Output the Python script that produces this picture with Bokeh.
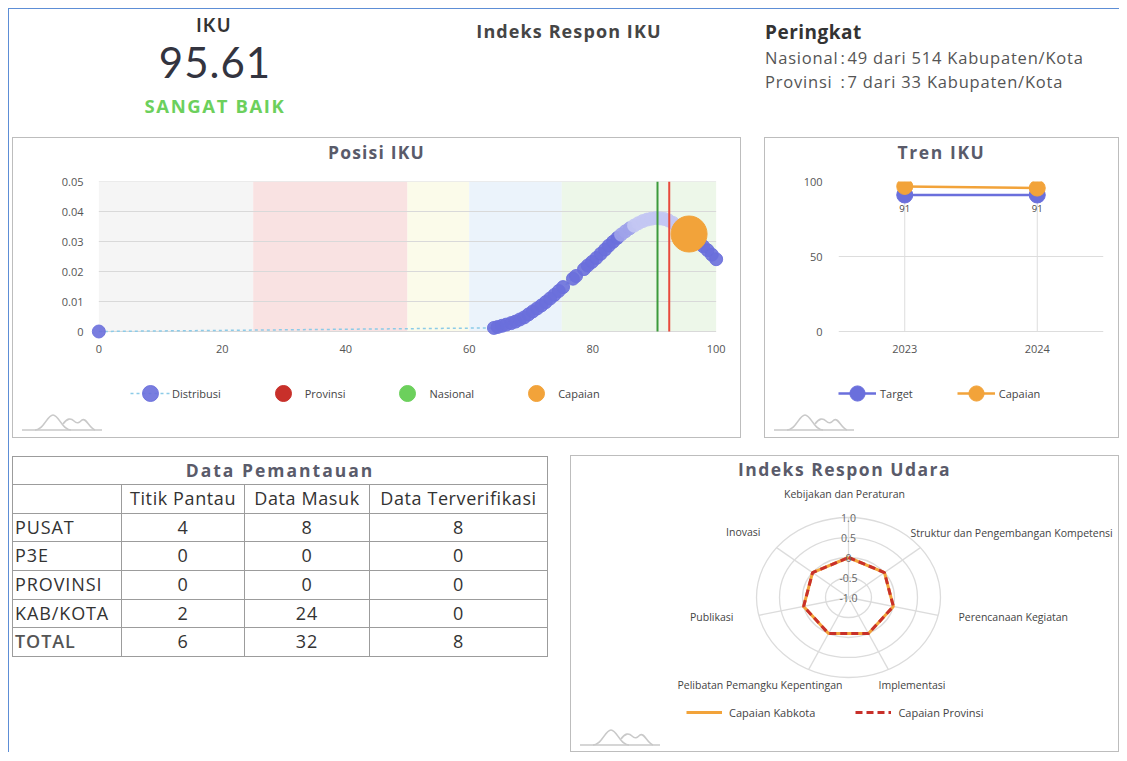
import math
from bokeh.plotting import figure
from bokeh.models import (ColumnDataSource, Div, Legend, LegendItem, Range1d,
                          FactorRange, FixedTicker)
from bokeh.layouts import column, row
from bokeh.embed import file_html
from bokeh.resources import INLINE
from bokeh.core.properties import value

# ---------------- data ----------------
iku_score = "95.61"
iku_category = "SANGAT BAIK"
rank_labels = ["Nasional", "Provinsi"]
rank_values = ["49 dari 514 Kabupaten/Kota", "7 dari 33 Kabupaten/Kota"]

dist_x = [0.0, 64.0, 64.6, 65.3, 66.0, 66.8, 67.5, 68.2, 68.9, 69.6, 70.3, 71.0,
          71.7, 72.4, 73.1, 73.8, 74.5, 75.2, 76.8, 77.3, 78.6, 79.2, 79.9, 80.6,
          81.3, 82.0, 82.6, 83.3, 84.0, 84.6, 85.3, 86.0, 86.7, 87.4, 88.1, 88.8,
          89.5, 90.2, 90.9, 91.6, 92.3, 93.0, 93.7, 94.4, 95.1, 95.8, 96.5, 97.2,
          97.9, 98.6, 99.3, 100.0]
dist_y = [0.0, 0.0012, 0.0015, 0.0019, 0.0023, 0.0028, 0.0033, 0.0040, 0.0047,
          0.0057, 0.0067, 0.0077, 0.0087, 0.0098, 0.0110, 0.0122, 0.0135, 0.0148,
          0.0176, 0.0185, 0.0208, 0.0220, 0.0232, 0.0245, 0.0259, 0.0273, 0.0286,
          0.0299, 0.0312, 0.0323, 0.0334, 0.0344, 0.0353, 0.0361, 0.0368, 0.0373,
          0.0376, 0.0378, 0.0377, 0.0375, 0.0370, 0.0362, 0.0352, 0.0341, 0.0329,
          0.0317, 0.0306, 0.0296, 0.0284, 0.0271, 0.0256, 0.0241]

band_from = [0, 25, 50, 60, 75]
band_to = [25, 50, 60, 75, 100]

nasional_x = [90.5]
provinsi_x = [92.4]
capaian_x = [95.61]
capaian_y = [0.0325]

posisi_xticks = [0, 20, 40, 60, 80, 100]
posisi_yticks = [0, 0.01, 0.02, 0.03, 0.04, 0.05]
posisi_ylabels = ["0", "0.01", "0.02", "0.03", "0.04", "0.05"]

tren_years = ["2023", "2024"]
tren_target = [91, 91]
tren_capaian = [96.7, 95.61]
tren_yticks = [0, 50, 100]

tbl_title = "Data Pemantauan"
tbl_cols = ["Titik Pantau", "Data Masuk", "Data Terverifikasi"]
tbl_rows = ["PUSAT", "P3E", "PROVINSI", "KAB/KOTA", "TOTAL"]
titik_pantau = [4, 0, 0, 2, 6]
data_masuk = [8, 0, 0, 24, 32]
data_terverifikasi = [8, 0, 0, 0, 8]

radar_axes = ["Kebijakan dan Peraturan", "Struktur dan Pengembangan Kompetensi",
              "Perencanaan Kegiatan", "Implementasi",
              "Pelibatan Pemangku Kepentingan", "Publikasi", "Inovasi"]
radar_kabkota = [0, 0, 0, 0, 0, 0, 0]
radar_provinsi = [0, 0, 0, 0, 0, 0, 0]
radar_ticks = [-1.0, -0.5, 0.0, 0.5, 1.0]
radar_tick_labels = ["-1.0", "-0.5", "0", "0.5", "1.0"]

# ---------------- styles ----------------
FONT = "Open Sans"
FONT2 = "Lato"
BLUE = "#6a6fdc"
ORANGE = "#f2a33a"
RED = "#c8302a"
GREEN = "#6cd05c"
BORDER = "1px solid #bdbdbd"
band_colors = ["#f5f5f5", "#f9e2e2", "#fbfbea", "#ebf3fb", "#edf7e9"]
TXT = "#444444"

LOGO = ('<svg width="110" height="24" style="display:block">'
        '<path d="M9 17 H89" stroke="#c9c9c9" stroke-width="1.6" fill="none"/>'
        '<path d="M22 17 C31 17 34 2 40 2 C46 2 49 17 58 17" stroke="#c9c9c9" stroke-width="1.6" fill="none"/>'
        '<path d="M50 11 C54 5 58 5 61 8 C64 11 66 10 69 7 C73 4 76 15 82 17" stroke="#c9c9c9" stroke-width="1.6" fill="none"/>'
        '</svg>')


def title_div(text, w, h, size=17, ls=1.5):
    return Div(text=(f'<div style="width:{w}px;height:{h}px;line-height:{h}px;text-align:center;'
                     f'font-family:\'{FONT}\';font-weight:700;font-size:{size}px;color:#5a5b6a;'
                     f'letter-spacing:{ls}px;white-space:nowrap">{text}</div>'),
               width=w, height=h, margin=0)


def logo_div(w, h):
    return Div(text=f'<div style="width:{w}px;height:{h}px">{LOGO}</div>', width=w, height=h,
               margin=0)


def abs_text(left, top, width, text, size, weight=400, color="#333", align="center", lh=None,
             ls=0, font=FONT):
    lh = lh or int(size * 1.2)
    return (f'<div style="position:absolute;left:{left}px;top:{top}px;width:{width}px;'
            f'text-align:{align};font-family:\'{font}\';font-size:{size}px;font-weight:{weight};'
            f'color:{color};line-height:{lh}px;letter-spacing:{ls}px;white-space:nowrap">'
            f'{text}</div>')


def style_axis(ax):
    ax.axis_line_color = None
    ax.major_tick_line_color = None
    ax.minor_tick_line_color = None
    ax.major_tick_out = 0
    ax.major_tick_in = 0
    ax.major_label_text_font = FONT
    ax.major_label_text_font_size = "11px"
    ax.major_label_text_color = "#555555"


# ---------------- header ----------------
rank_html = "".join(
    f'<tr style="height:24px"><td style="padding:0">{l}</td><td style="padding:0 2px">:</td>'
    f'<td style="padding:0">{v}</td></tr>' for l, v in zip(rank_labels, rank_values))
header_html = (
    f'<div style="position:relative;width:1110px;height:128px;font-family:\'{FONT}\'">'
    + abs_text(105, 6, 200, "IKU", 18, 700, "#333", lh=20, ls=1.5, font=FONT2)
    + abs_text(56, 33, 300, iku_score, 42, 400, "#33343f", lh=40, ls=1, font=FONT2)
    + abs_text(56, 86, 300, iku_category, 18.5, 700, GREEN, lh=22, ls=1.6)
    + abs_text(410, 11, 300, "Indeks Respon IKU", 18, 700, "#454545", lh=22, ls=1.1)
    + abs_text(756, 12, 300, "Peringkat", 19, 700, "#333", align="left", lh=23, ls=0.5)
    + f'<table style="position:absolute;left:756px;top:37px;border-collapse:collapse;'
      f'font-size:16.5px;letter-spacing:0.8px;color:#555">{rank_html}</table>'
    + '</div>')
header = Div(text=header_html, width=1110, height=128, margin=0)

# ---------------- Posisi IKU ----------------
PW, PFH = 727, 247
P_TOP, P_PLOT = 15, 150          # px above the plot area, px height of the 0..0.05 area
X_PAD = 2                        # x units of room either side of 0..100 for tick labels
p_unit = P_PLOT / posisi_yticks[-1]
p_ymin = -(PFH - P_TOP - P_PLOT) / p_unit
pp = figure(width=PW, height=PFH, x_range=Range1d(-X_PAD, 100 + X_PAD),
            y_range=Range1d(p_ymin, posisi_yticks[-1]),
            output_backend="svg", toolbar_location=None, min_border_left=73,
            min_border_right=12, min_border_top=P_TOP, min_border_bottom=0)
pp.outline_line_color = None
pp.background_fill_color = "white"
bands = pp.quad(left=band_from, right=band_to, bottom=0, top=posisi_yticks[-1],
                fill_color=band_colors, line_color=None)
bands.level = "image"
gridr = pp.segment(x0=[band_from[0]] * len(posisi_yticks), x1=[band_to[-1]] * len(posisi_yticks),
                   y0=posisi_yticks, y1=posisi_yticks, line_color="#d9d9d9", line_width=1)
gridr.level = "underlay"
pp.grid.grid_line_color = None
pp.xaxis.ticker = FixedTicker(ticks=posisi_xticks)
pp.yaxis.ticker = FixedTicker(ticks=posisi_yticks)
pp.yaxis.major_label_overrides = {t: l for t, l in zip(posisi_yticks, posisi_ylabels)}
style_axis(pp.xaxis[0])
style_axis(pp.yaxis[0])
pp.xaxis.fixed_location = 0
pp.xaxis.major_label_standoff = 13
pp.yaxis.major_label_standoff = 3

dist_colors = []
for xv in dist_x:
    if 86.5 <= xv <= 93.8:
        dist_colors.append("#c3c6f3")
    elif 84.5 <= xv < 86.5:
        dist_colors.append("#9ea2ea")
    else:
        dist_colors.append(BLUE)
dsrc = ColumnDataSource(dict(x=dist_x, y=dist_y, c=dist_colors))
r_dline = pp.line("x", "y", source=dsrc, line_color="#8ccbe8", line_width=1.5, line_dash="3 3")
r_dpts = pp.scatter("x", "y", source=dsrc, size=13, fill_color="c", line_color="c",
                    fill_alpha=0.9, line_alpha=0.9)
pp.segment(x0=nasional_x, x1=nasional_x, y0=[0], y1=[posisi_yticks[-1]],
           line_color="#3c9a3c", line_width=2)
pp.segment(x0=provinsi_x, x1=provinsi_x, y0=[0], y1=[posisi_yticks[-1]],
           line_color="#e8493c", line_width=2)
r_cap = pp.scatter(capaian_x, capaian_y, size=36, fill_color=ORANGE, line_color=ORANGE)
r_prov = pp.scatter([float("nan")], [float("nan")], size=16, fill_color=RED, line_color=RED)
r_nas = pp.scatter([float("nan")], [float("nan")], size=16, fill_color=GREEN, line_color=GREEN)

leg1 = Legend(items=[LegendItem(label="Distribusi", renderers=[r_dline, r_dpts]),
                     LegendItem(label="Provinsi", renderers=[r_prov]),
                     LegendItem(label="Nasional", renderers=[r_nas]),
                     LegendItem(label="Capaian", renderers=[r_cap])],
              location=(44, 0), orientation="horizontal", glyph_width=40, glyph_height=40,
              label_standoff=2, spacing=42, padding=0, margin=0, border_line_color=None,
              background_fill_alpha=0, label_text_font=FONT, label_text_font_size="11px",
              label_text_color=TXT)
pp.add_layout(leg1)

posisi_panel = column(title_div("Posisi IKU", PW, 28, 17.5, 1.2), pp, logo_div(PW, 24),
                      styles={"border": BORDER}, margin=(0, 0, 0, 3))

# ---------------- Tren IKU ----------------
TW = 353
t_unit = P_PLOT / tren_yticks[-1]
t_ymin = -(PFH - P_TOP - P_PLOT) / t_unit
tp = figure(width=TW, height=PFH, x_range=FactorRange(*tren_years, range_padding=0),
            y_range=Range1d(t_ymin, tren_yticks[-1]), output_backend="svg",
            toolbar_location=None, min_border_left=73, min_border_right=15,
            min_border_top=P_TOP, min_border_bottom=0)
tp.x_range.factor_padding = 0
tp.outline_line_color = None
tp.xgrid.grid_line_color = None
tp.ygrid.grid_line_color = "#dddddd"
tp.yaxis.ticker = FixedTicker(ticks=tren_yticks)
tp.ygrid.ticker = FixedTicker(ticks=tren_yticks)
style_axis(tp.xaxis[0])
style_axis(tp.yaxis[0])
tp.xaxis.fixed_location = 0
tp.xaxis.major_label_standoff = 13
tp.yaxis.major_label_standoff = 16
tp.segment(x0=tren_years, x1=tren_years, y0=[0] * len(tren_years),
           y1=[tren_yticks[-1]] * len(tren_years), line_color="#dddddd", line_width=1)
r_tl = tp.line(tren_years, tren_target, line_color=BLUE, line_width=2.5)
r_ts = tp.scatter(tren_years, tren_target, size=16, fill_color=BLUE, line_color=BLUE)
tp.text(tren_years, tren_target, text=[str(v) for v in tren_target], y_offset=13,
        text_align="center", text_baseline="middle", text_font=value(FONT),
        text_font_size="9.5px", text_color=TXT)
r_cl = tp.line(tren_years, tren_capaian, line_color=ORANGE, line_width=2.5)
r_cs = tp.scatter(tren_years, tren_capaian, size=16, fill_color=ORANGE, line_color=ORANGE)
leg2 = Legend(items=[LegendItem(label="Target", renderers=[r_tl, r_ts]),
                     LegendItem(label="Capaian", renderers=[r_cl, r_cs])],
              location=(0, 0), orientation="horizontal", glyph_width=38, glyph_height=40,
              label_standoff=4, spacing=44, padding=0, margin=0, border_line_color=None,
              background_fill_alpha=0, label_text_font=FONT, label_text_font_size="11px",
              label_text_color=TXT)
tp.add_layout(leg2)
tren_panel = column(title_div("Tren IKU", TW, 28, 17.5, 1.6), tp, logo_div(TW, 24),
                    styles={"border": BORDER}, margin=(0, 0, 0, 23))

# ---------------- table ----------------
cell = "border:1px solid #9c9c9c;padding:0;"
row_h = [28, 29, 28, 29, 29, 28, 29]
tbl = (f'<table style="border-collapse:collapse;table-layout:fixed;width:535px;'
       f'font-family:\'{FONT}\';font-size:18px;letter-spacing:0.9px;color:#333">'
       '<colgroup><col style="width:109px"><col style="width:123px">'
       '<col style="width:125px"><col style="width:178px"></colgroup>'
       f'<tr style="height:{row_h[0]}px"><td colspan="4" style="{cell}text-align:center;'
       f'font-weight:700;font-size:17.5px;letter-spacing:2px;color:#5a5b6a">{tbl_title}</td></tr>'
       f'<tr style="height:{row_h[1]}px"><td style="{cell}"></td>'
       + "".join(f'<td style="{cell}text-align:center;white-space:nowrap;letter-spacing:0.6px">{c}</td>'
                 for c in tbl_cols)
       + '</tr>')
for i, (name, a, b, c) in enumerate(zip(tbl_rows, titik_pantau, data_masuk, data_terverifikasi)):
    bold = "font-weight:600;color:#555;" if name == "TOTAL" else ""
    tbl += (f'<tr style="height:{row_h[i + 2]}px"><td style="{cell}{bold}padding-left:2px;'
            f'white-space:nowrap">{name}</td>'
            + "".join(f'<td style="{cell}text-align:center">{v}</td>' for v in (a, b, c))
            + '</tr>')
tbl += '</table>'
table_div = Div(text=tbl, width=536, height=201, margin=(1, 0, 0, 3))

# ---------------- radar ----------------
RW, RH = 547, 246
SX, SY = 46.0, 40.0          # px per radial unit (horizontal / vertical)
CXP, CYP = 277, 115          # radar centre inside the figure, px from left / top
rp = figure(width=RW, height=RH, x_range=Range1d(-CXP / SX, (RW - CXP) / SX),
            y_range=Range1d(-(RH - CYP) / SY, CYP / SY), output_backend="svg",
            toolbar_location=None, min_border=0)
rp.axis.visible = False
rp.grid.grid_line_color = None
rp.outline_line_color = None
RMIN = radar_ticks[0]
n = len(radar_axes)
ang = [2 * math.pi * i / n for i in range(n)]
rings = [2 * (t - RMIN) for t in radar_ticks[1:]]
rp.ellipse(x=0, y=0, width=rings, height=rings, fill_color=None, line_color="#dcdcdc",
           line_width=1.3)
rmax = radar_ticks[-1] - RMIN
rp.segment(x0=[0] * n, y0=[0] * n, x1=[rmax * math.sin(a) for a in ang],
           y1=[rmax * math.cos(a) for a in ang], line_color="#dcdcdc", line_width=1.3)


def poly(vals):
    xs = [(v - RMIN) * math.sin(a) for v, a in zip(vals, ang)]
    ys = [(v - RMIN) * math.cos(a) for v, a in zip(vals, ang)]
    return xs + xs[:1], ys + ys[:1]


kx, ky = poly(radar_kabkota)
px_, py_ = poly(radar_provinsi)
r_k = rp.line(kx, ky, line_color=ORANGE, line_width=3)
r_p = rp.line(px_, py_, line_color=RED, line_width=3, line_dash="7 4")
rp.text(x=[0] * len(radar_ticks), y=[t - RMIN for t in radar_ticks], text=radar_tick_labels,
        text_align="center", text_baseline="middle", text_font=value(FONT),
        text_font_size="10.5px", text_color="#666666")
label_offsets = [(-4, -104, "center"), (62, -65, "left"), (110, 19, "left"), (30, 87, "left"),
                 (-6, 87, "right"), (-115, 19, "right"), (-88, -66, "right")]
for lab, (dx, dy, al) in zip(radar_axes, label_offsets):
    rp.text(x=[dx / SX], y=[-dy / SY], text=[lab], text_align=al, text_baseline="middle",
            text_font=value(FONT), text_font_size="10.5px", text_color=TXT)
leg3 = Legend(items=[LegendItem(label="Capaian Kabkota", renderers=[r_k]),
                     LegendItem(label="Capaian Provinsi", renderers=[r_p])],
              location=(115, 6), orientation="horizontal", glyph_width=36, glyph_height=20,
              label_standoff=7, spacing=40, padding=0, margin=0, border_line_color=None,
              background_fill_alpha=0, label_text_font=FONT, label_text_font_size="11px",
              label_text_color=TXT)
rp.add_layout(leg3)
radar_panel = column(title_div("Indeks Respon Udara", RW, 26, 17.5, 1.5), rp, logo_div(RW, 23),
                     styles={"border": BORDER}, margin=(0, 0, 0, 22))

row1 = row(posisi_panel, tren_panel, margin=0)
row2 = row(table_div, radar_panel, margin=(17, 0, 0, 0))
root = column(header, row1, row2, margin=(8, 0, 0, 8),
              styles={"border-top": "1px solid #5d8ed6", "border-left": "1px solid #5d8ed6"})

open("out.html", "w").write(file_html(root, INLINE, "Indeks Respon IKU"))
